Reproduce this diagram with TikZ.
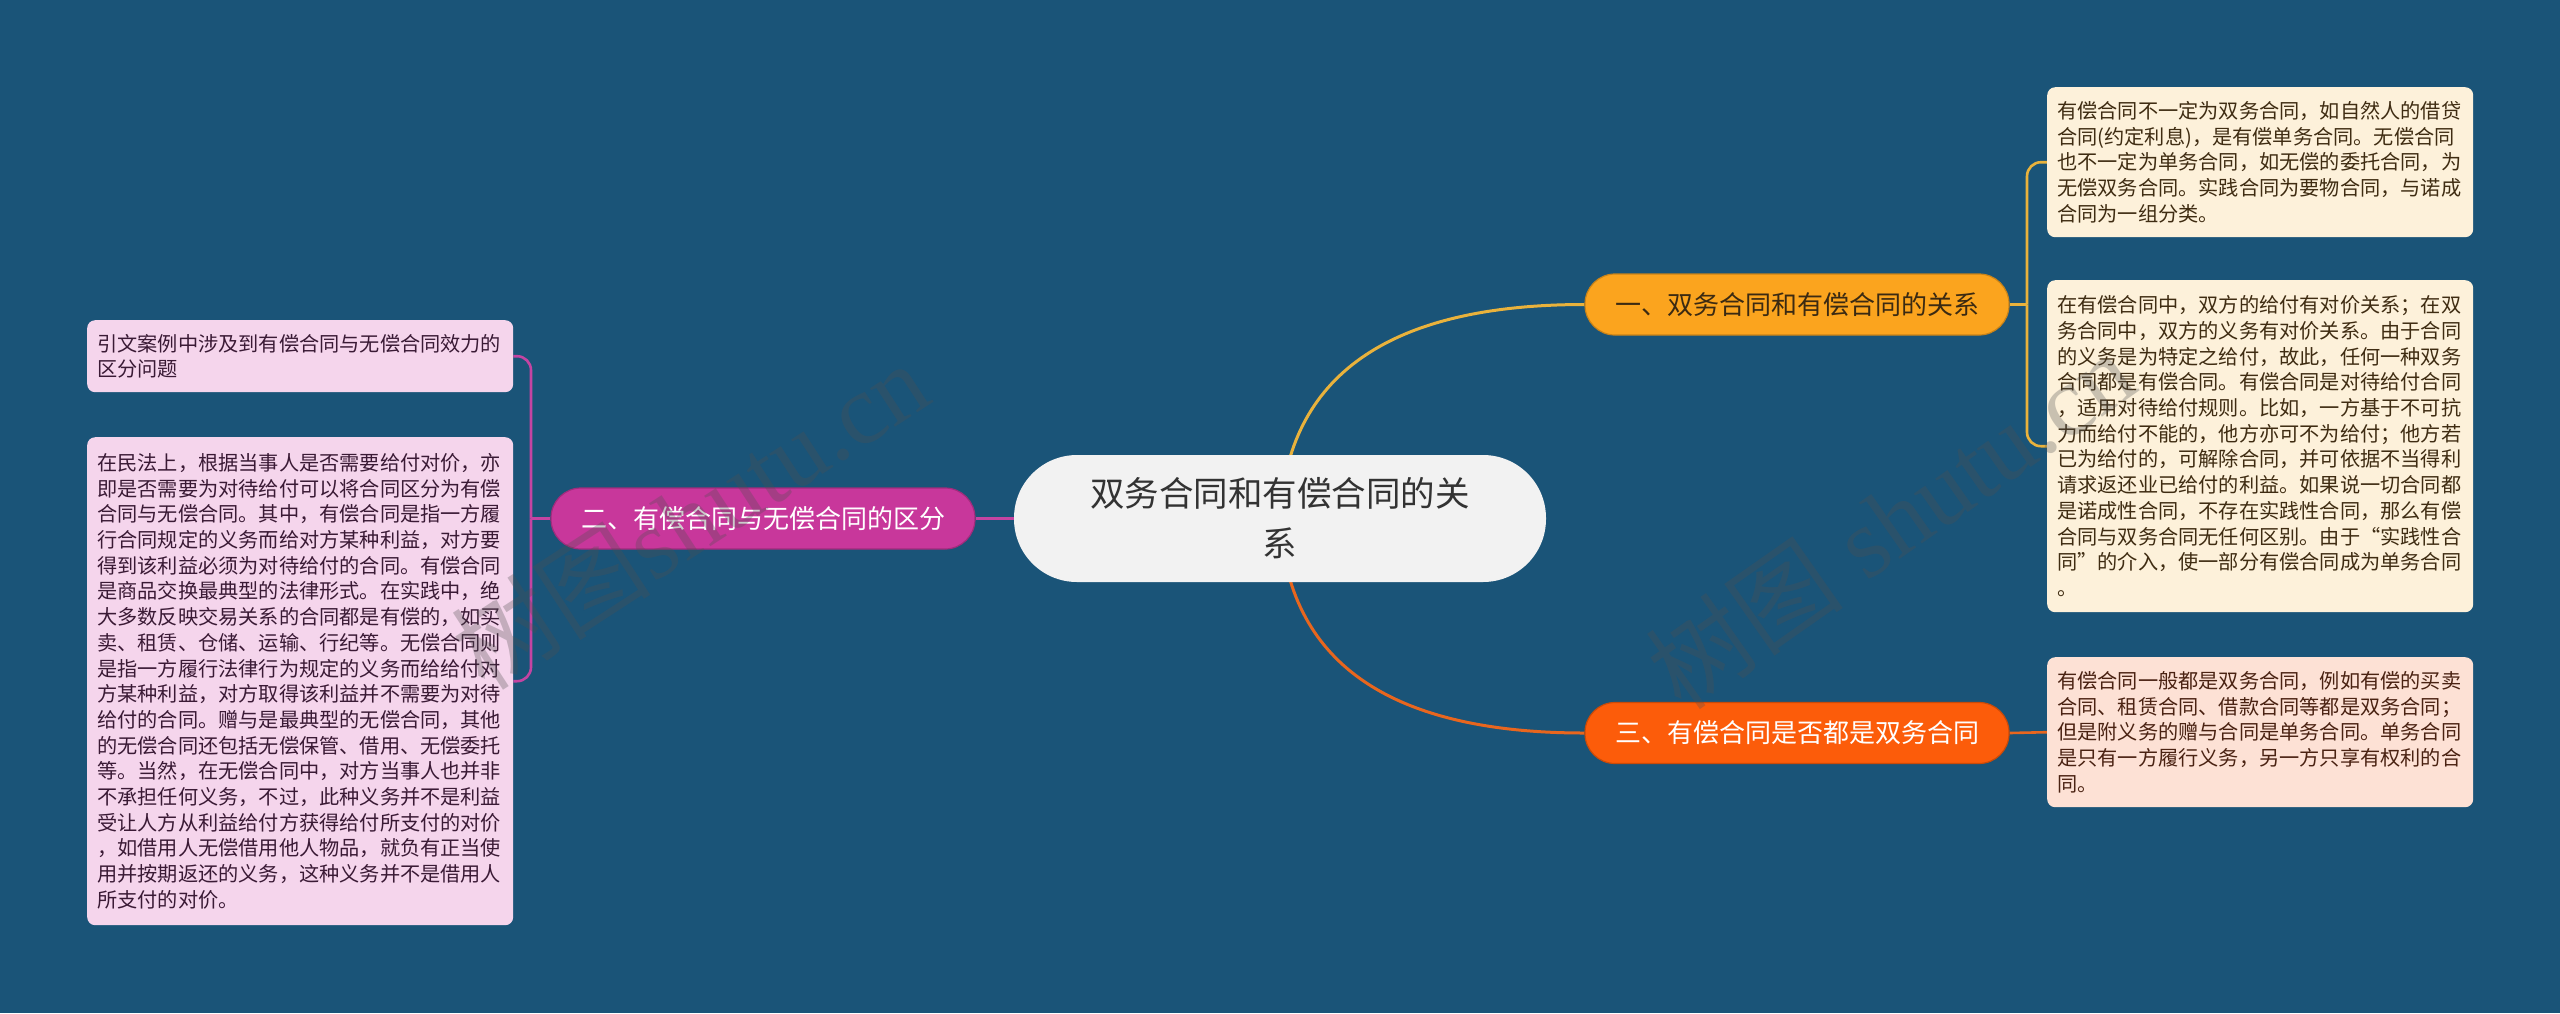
\documentclass[tikz,border=0pt]{standalone}
\usepackage{fontspec}
\setmainfont{Noto Sans CJK SC}
\newfontfamily\wmfont{Liberation Serif}
\usetikzlibrary{backgrounds}
\definecolor{bgc}{HTML}{1A5478}
\definecolor{cfill}{HTML}{F2F2F2}
\definecolor{ctext}{HTML}{333333}
\definecolor{oneF}{HTML}{FBA41E}
\definecolor{oneL}{HTML}{E9B23C}
\definecolor{oneT}{HTML}{3B2A12}
\definecolor{twoF}{HTML}{C8379B}
\definecolor{twoL}{HTML}{C444A2}
\definecolor{thrF}{HTML}{FC5C0A}
\definecolor{thrL}{HTML}{E8661E}
\definecolor{leafA}{HTML}{FDF1DA}
\definecolor{leafB}{HTML}{F5D5EC}
\definecolor{leafC}{HTML}{FDE1D5}
\definecolor{leafAT}{HTML}{3F2C12}
\definecolor{leafBT}{HTML}{3A1A35}
\definecolor{leafCT}{HTML}{4A2212}
\definecolor{wmc}{HTML}{505050}
\tikzset{
  rootbox/.style={fill=cfill, text=ctext, rounded corners=63pt, minimum width=532pt, minimum height=127pt, align=center, inner sep=0pt, font=\fontsize{34.5pt}{50pt}\selectfont},
  branchbox/.style={rounded corners=30pt, minimum width=424pt, minimum height=61pt, inner sep=0pt, font=\fontsize{26pt}{30pt}\selectfont, line width=1.2pt},
  leafbox/.style={anchor=north west, rounded corners=8pt, text width=406pt, inner xsep=10pt, inner ysep=0pt, align=left, font=\fontsize{20.2pt}{25.7pt}\selectfont},
  mainline/.style={line width=3pt},
  subline/.style={line width=2.6pt},
  wmark/.style={text=wmc, opacity=0.3, font=\wmfont\fontsize{100pt}{100pt}\selectfont}
}
\begin{document}
\begin{tikzpicture}[x=1pt,y=-1pt]
\useasboundingbox (0,0) rectangle (2560,1013);
% root
\node[rootbox] (c) at (1280,518.5) {双务合同和有偿合同的关\\系};
% branches
\node[branchbox, fill=oneF, draw=oneF!80!black, text=oneT] (b1) at (1797,304.5) {一、双务合同和有偿合同的关系};
\node[branchbox, fill=twoF, draw=twoF!80!black, text=white] (b2) at (763,518.5) {二、有偿合同与无偿合同的区分};
\node[branchbox, fill=thrF, draw=thrF!80!black, text=white] (b3) at (1797,733) {三、有偿合同是否都是双务合同};
% leaves of branch one
\node[leafbox, fill=leafA, text=leafAT, minimum height=150pt] (l1a) at (2047,87) {有偿合同不一定为双务合同，如自然人的借贷\\合同(约定利息)，是有偿单务合同。无偿合同\\也不一定为单务合同，如无偿的委托合同，为\\无偿双务合同。实践合同为要物合同，与诺成\\合同为一组分类。};
\node[leafbox, fill=leafA, text=leafAT, minimum height=332pt] (l1b) at (2047,280) {在有偿合同中，双方的给付有对价关系；在双\\务合同中，双方的义务有对价关系。由于合同\\的义务是为特定之给付，故此，任何一种双务\\合同都是有偿合同。有偿合同是对待给付合同\\，适用对待给付规则。比如，一方基于不可抗\\力而给付不能的，他方亦可不为给付；他方若\\已为给付的，可解除合同，并可依据不当得利\\请求返还业已给付的利益。如果说一切合同都\\是诺成性合同，不存在实践性合同，那么有偿\\合同与双务合同无任何区别。由于“实践性合\\同”的介入，使一部分有偿合同成为单务合同\\。};
% leaves of branch two
\node[leafbox, fill=leafB, text=leafBT, minimum height=72pt] (l2a) at (87,320) {引文案例中涉及到有偿合同与无偿合同效力的\\区分问题};
\node[leafbox, fill=leafB, text=leafBT, minimum height=488pt] (l2b) at (87,437) {在民法上，根据当事人是否需要给付对价，亦\\即是否需要为对待给付可以将合同区分为有偿\\合同与无偿合同。其中，有偿合同是指一方履\\行合同规定的义务而给对方某种利益，对方要\\得到该利益必须为对待给付的合同。有偿合同\\是商品交换最典型的法律形式。在实践中，绝\\大多数反映交易关系的合同都是有偿的，如买\\卖、租赁、仓储、运输、行纪等。无偿合同则\\是指一方履行法律行为规定的义务而给给付对\\方某种利益，对方取得该利益并不需要为对待\\给付的合同。赠与是最典型的无偿合同，其他\\的无偿合同还包括无偿保管、借用、无偿委托\\等。当然，在无偿合同中，对方当事人也并非\\不承担任何义务，不过，此种义务并不是利益\\受让人方从利益给付方获得给付所支付的对价\\，如借用人无偿借用他人物品，就负有正当使\\用并按期返还的义务，这种义务并不是借用人\\所支付的对价。};
% leaf of branch three
\node[leafbox, fill=leafC, text=leafCT, minimum height=150pt] (l3) at (2047,657) {有偿合同一般都是双务合同，例如有偿的买卖\\合同、租赁合同、借款合同等都是双务合同；\\但是附义务的赠与合同是单务合同。单务合同\\是只有一方履行义务，另一方只享有权利的合\\同。};
% junctions
\coordinate (j1) at (2027,304.5);
\coordinate (j2) at (531,518.5);
% connectors
\begin{pgfonlayer}{background}
\fill[bgc] (0,0) rectangle (2560,1013);
\draw[mainline, oneL] (c.center) .. controls (1287,376) and (1388,304.5) .. (b1.west);
\draw[mainline, thrL] (c.center) .. controls (1287,661.5) and (1388,733) .. (b3.west);
\draw[mainline, twoL] (c.west) -- (b2.east);
\draw[subline, oneL] (b1.east) -- (j1);
\draw[subline, oneL, rounded corners=14pt] (j1) |- (l1a.west);
\draw[subline, oneL, rounded corners=14pt] (j1) |- (l1b.west);
\draw[subline, twoL] (b2.west) -- (j2);
\draw[subline, twoL, rounded corners=14pt] (j2) |- (l2a.east);
\draw[subline, twoL, rounded corners=14pt] (j2) |- (l2b.east);
\draw[subline, thrL] (b3.east) -- (l3.west);
\end{pgfonlayer}
% watermarks
\node[wmark, rotate=33] (w1) at (690,515) {{\fontspec{Noto Sans CJK SC}树图}shutu.cn};
\node[wmark, rotate=35] (w2) at (1890,520) {{\fontspec{Noto Sans CJK SC}树图} shutu.cn};
\end{tikzpicture}
\end{document}
